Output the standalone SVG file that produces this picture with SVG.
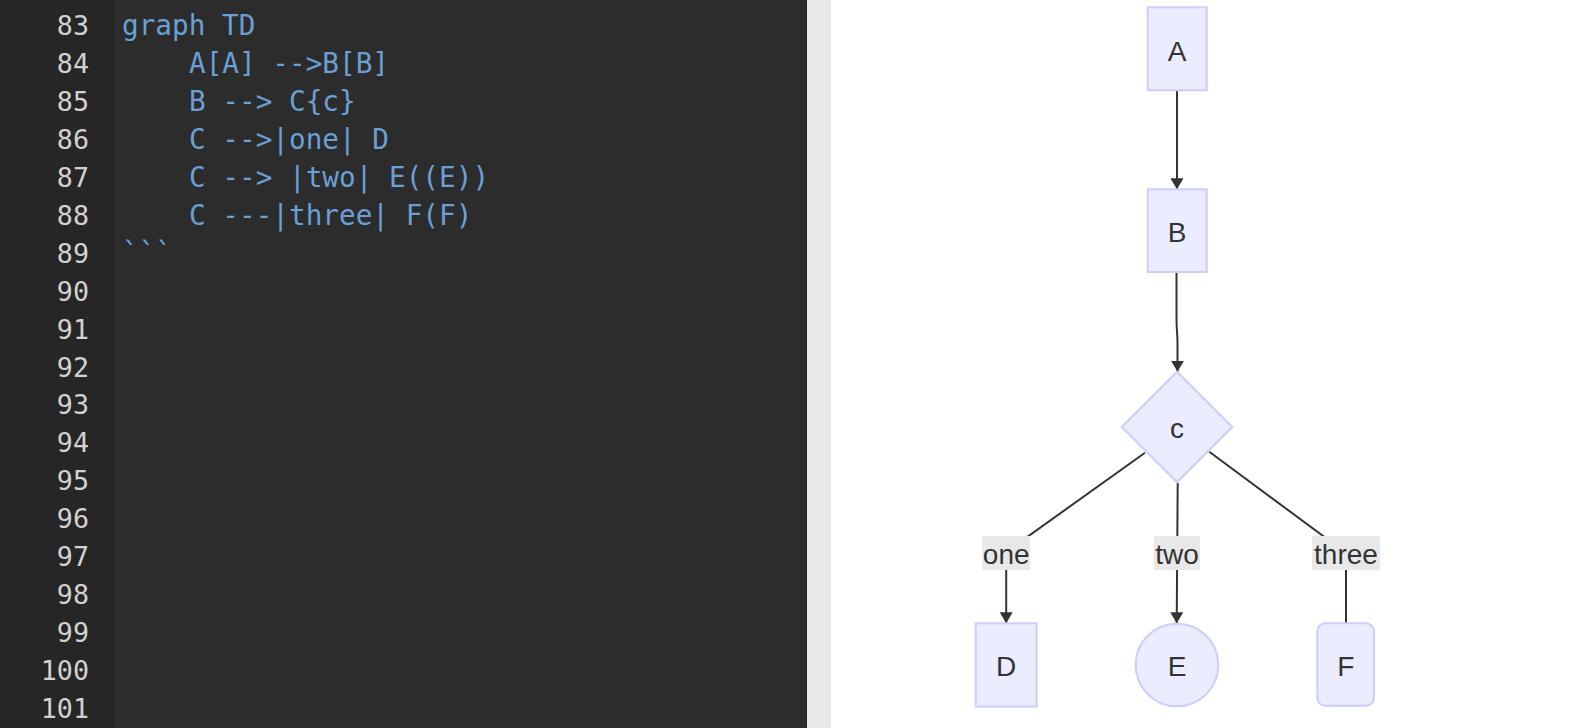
<svg xmlns="http://www.w3.org/2000/svg" width="1588" height="728" viewBox="0 0 1588 728">
  <style>
    .code { font-family: "DejaVu Sans Mono", "Liberation Mono", monospace; font-size: 27.7px; fill: #6aa0d5; }
    .ln { font-family: "DejaVu Sans Mono", "Liberation Mono", monospace; font-size: 26.7px; fill: #d2d2d2; text-anchor: end; }
    .node { fill: #ECECFF; stroke: #CCCCFF; stroke-width: 2; }
    .nt { font-family: "Liberation Sans", Arial, sans-serif; font-size: 28px; fill: #333333; text-anchor: middle; }
    .edge { fill: none; stroke: #333333; stroke-width: 2; }
    .lblbg { fill: #e8e8e8; }
  </style>
  <defs>
    <marker id="arrow" viewBox="0 0 11 13" refX="11" refY="6.5" markerWidth="11" markerHeight="13" markerUnits="userSpaceOnUse" orient="auto">
      <path d="M0,0 L11,6.5 L0,13 z" fill="#333333"/>
    </marker>
  </defs>

  <!-- editor panel -->
  <rect x="0" y="0" width="807" height="728" fill="#2c2c2c"/>
  <rect x="0" y="0" width="114" height="728" fill="#262626"/>
  <rect x="807" y="0" width="24" height="728" fill="#e8e8e8"/>
  <rect x="831" y="0" width="757" height="728" fill="#ffffff"/>

  <g id="line-numbers">
    <text class="ln" x="89" y="35">83</text>
    <text class="ln" x="89" y="73">84</text>
    <text class="ln" x="89" y="111">85</text>
    <text class="ln" x="89" y="149">86</text>
    <text class="ln" x="89" y="187">87</text>
    <text class="ln" x="89" y="225">88</text>
    <text class="ln" x="89" y="263">89</text>
    <text class="ln" x="89" y="301">90</text>
    <text class="ln" x="89" y="339">91</text>
    <text class="ln" x="89" y="377">92</text>
    <text class="ln" x="89" y="414">93</text>
    <text class="ln" x="89" y="452">94</text>
    <text class="ln" x="89" y="490">95</text>
    <text class="ln" x="89" y="528">96</text>
    <text class="ln" x="89" y="566">97</text>
    <text class="ln" x="89" y="604">98</text>
    <text class="ln" x="89" y="642">99</text>
    <text class="ln" x="89" y="680">100</text>
    <text class="ln" x="89" y="718">101</text>
  </g>

  <g id="code">
    <text class="code" x="122" y="35">graph TD</text>
    <text class="code" x="189" y="73">A[A] --&gt;B[B]</text>
    <text class="code" x="189" y="111">B --&gt; C{c}</text>
    <text class="code" x="189" y="149">C --&gt;|one| D</text>
    <text class="code" x="189" y="187">C --&gt; |two| E((E))</text>
    <text class="code" x="189" y="225">C ---|three| F(F)</text>
    <text class="code" x="122" y="263">```</text>
  </g>

  <!-- connectors -->
  <g id="connectors">
    <path class="edge" d="M1177,90.3 L1177,189.3" marker-end="url(#arrow)"/>
    <path class="edge" d="M1176.5,272 L1176.5,318 C1176.5,332 1177.5,330 1177.5,345 L1177.5,371.7" marker-end="url(#arrow)"/>
    <path class="edge" d="M1145,452.7 L1006.2,552 L1006.2,623.3" marker-end="url(#arrow)"/>
    <path class="edge" d="M1177.7,483 L1177.2,553 L1176.7,623.3" marker-end="url(#arrow)"/>
    <path class="edge" d="M1209.3,451.7 L1346,553 L1346,623.3"/>
  </g>

  <g id="edge-labels">
    <g id="label-one">
      <rect class="lblbg" x="982.3" y="536" width="47.7" height="34"/>
      <text class="nt" x="1006.2" y="564">one</text>
    </g>
    <g id="label-two">
      <rect class="lblbg" x="1154" y="536" width="46" height="34"/>
      <text class="nt" x="1177" y="564">two</text>
    </g>
    <g id="label-three">
      <rect class="lblbg" x="1312" y="536" width="68" height="34"/>
      <text class="nt" x="1346" y="564">three</text>
    </g>
  </g>

  <!-- nodes -->
  <g id="node-A">
    <rect class="node" x="1147.7" y="7.3" width="59" height="83"/>
    <text class="nt" x="1177.2" y="60.5">A</text>
  </g>
  <g id="node-B">
    <rect class="node" x="1147.7" y="189.3" width="59" height="82.7"/>
    <text class="nt" x="1177.2" y="242.2">B</text>
  </g>
  <g id="node-C">
    <polygon class="node" points="1177,371.7 1232.3,427 1177,482.3 1121.7,427"/>
    <text class="nt" x="1177" y="438">c</text>
  </g>
  <g id="node-D">
    <rect class="node" x="975.7" y="623.3" width="61" height="83.3"/>
    <text class="nt" x="1006.2" y="675.7">D</text>
  </g>
  <g id="node-E">
    <circle class="node" cx="1177" cy="665" r="41.3"/>
    <text class="nt" x="1177" y="675.7">E</text>
  </g>
  <g id="node-F">
    <rect class="node" x="1317.3" y="623.3" width="56.7" height="82.4" rx="8" ry="8"/>
    <text class="nt" x="1345.7" y="675.7">F</text>
  </g>
</svg>
